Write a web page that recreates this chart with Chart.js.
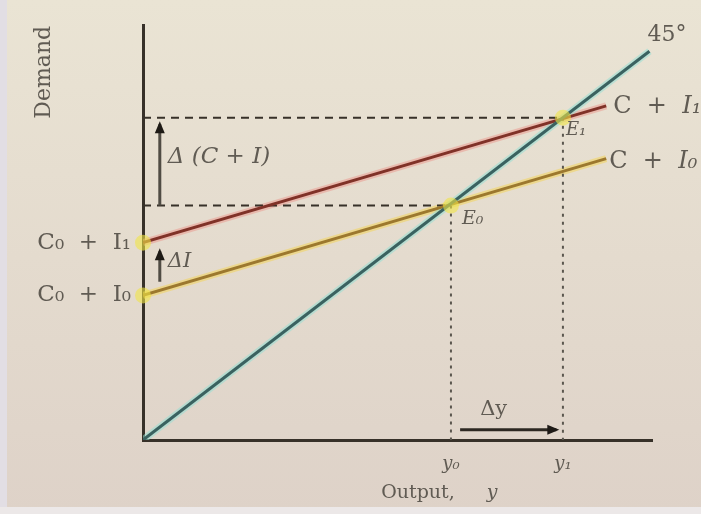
<!DOCTYPE html>
<html>
<head>
<meta charset="utf-8">
<script src="https://cdn.jsdelivr.net/npm/chart.js@4.4.1/dist/chart.umd.min.js"></script>
<style>
  html, body { margin: 0; padding: 0; background: #e4dacd; }
  #wrap { width: 701px; height: 514px; }
</style>
</head>
<body>
<div id="wrap"><canvas id="myChart" width="701" height="514"></canvas></div>
<script>
// Keynesian cross: planned demand against output, investment rising from I0 to I1

const lineX = [0, 91];              // reach of the two C + I lines
const demandI0 = [37, 72];          // C0 + I0 line, at x = 0 and x = 91
const demandI1 = [50.5, 85.5];      // C0 + I1 line
const diagonalX = [0, 99.5];        // 45 degree line, demand = output
const diagonalY = [0, 99.5];

const eqOutput = [60.5, 82.5];      // y0, y1
const eqDemand = [60, 82.5];        // heights of E0, E1

const outputTicks = ['y₀', 'y₁'];
const demandTicks = ['C₀  +  I₀', 'C₀  +  I₁'];

// arrows, tail -> head
const arrowDeltaCI = [[3.3, 60], [3.3, 80.8]];
const arrowDeltaI = [[3.3, 40.5], [3.3, 48.3]];
const arrowDeltaY = [[62.3, 2.6], [81.2, 2.6]];

const ink = 'rgb(55, 49, 41)';
const textGray = 'rgb(96, 91, 83)';

const pts = (xs, ys) => xs.map((x, i) => ({ x: x, y: ys[i] }));
const pairs = (arr) => arr.map(p => ({ x: p[0], y: p[1] }));

function line(data, color, width, order, extra) {
    return Object.assign({
        data: data,
        showLine: true,
        borderColor: color,
        borderWidth: width,
        pointRadius: 0,
        order: order
    }, extra || {});
}

const datasets = [
    // soft colour fringes under the main lines
    line(pts(diagonalX, diagonalY), 'rgba(150, 222, 212, 0.55)', 7, 20),
    line(pts(lineX, demandI1), 'rgba(236, 150, 140, 0.5)', 7, 20),
    line(pts(lineX, demandI0), 'rgba(242, 212, 90, 0.55)', 7, 20),

    line(pts(diagonalX, diagonalY), 'rgb(58, 98, 96)', 3, 10),
    line(pts(lineX, demandI1), 'rgb(128, 50, 40)', 3, 10),
    line(pts(lineX, demandI0), 'rgb(156, 120, 46)', 3, 10),

    // guides from the equilibria to the axes
    line(pts([0, eqOutput[1]], [eqDemand[1], eqDemand[1]]), ink, 2, 15, { borderDash: [8, 6] }),
    line(pts([0, eqOutput[0]], [eqDemand[0], eqDemand[0]]), ink, 2, 15, { borderDash: [8, 6] }),
    line(pts([eqOutput[0], eqOutput[0]], [eqDemand[0], 0]), 'rgb(90, 86, 78)', 2, 15, { borderDash: [3, 5] }),
    line(pts([eqOutput[1], eqOutput[1]], [eqDemand[1], 0]), 'rgb(90, 86, 78)', 2, 15, { borderDash: [3, 5] }),

    // change arrows
    line(pairs(arrowDeltaCI), 'rgb(80, 76, 68)', 3, 5, { arrowHead: true }),
    line(pairs(arrowDeltaI), 'rgb(80, 76, 68)', 3, 5, { arrowHead: true }),
    line(pairs(arrowDeltaY), 'rgb(45, 40, 34)', 3, 5, { arrowHead: true }),

    // yellow highlights on intercepts and equilibria
    {
        data: pts([0, 0, eqOutput[0], eqOutput[1]], [demandI0[0], demandI1[0], eqDemand[0], eqDemand[1]]),
        showLine: false,
        pointRadius: 8,
        pointBorderWidth: 0,
        pointBackgroundColor: 'rgba(240, 228, 70, 0.6)',
        clip: false,
        order: 1
    }
];

// text placed next to marks: anchor in data units, offset in pixels
const notes = [
    { runs: [['C  +  ', ''], ['I₁', 'italic ']], x: lineX[1], y: demandI1[1], dx: 7, dy: 1, size: 24 },
    { runs: [['C  +  ', ''], ['I₀', 'italic ']], x: lineX[1], y: demandI0[1], dx: 3, dy: 3, size: 24 },
    { runs: [['45°', '']], x: diagonalX[1], y: diagonalY[1], dx: -2, dy: -16, size: 22 },
    { runs: [['E₁', 'italic ']], x: eqOutput[1], y: eqDemand[1], dx: 3, dy: 13, size: 18 },
    { runs: [['E₀', 'italic ']], x: eqOutput[0], y: eqDemand[0], dx: 11, dy: 14, size: 19 },
    { runs: [['Δ (C + I)', 'italic ']], x: arrowDeltaCI[0][0], y: (arrowDeltaCI[0][1] + arrowDeltaCI[1][1]) / 2, dx: 8, dy: -8, size: 23 },
    { runs: [['ΔI', 'italic ']], x: arrowDeltaI[0][0], y: (arrowDeltaI[0][1] + arrowDeltaI[1][1]) / 2, dx: 8, dy: -5, size: 21 },
    { runs: [['Δy', '']], x: (arrowDeltaY[0][0] + arrowDeltaY[1][0]) / 2, y: arrowDeltaY[0][1], dx: -28, dy: -20, size: 21 }
];

const paperPlugin = {
    id: 'paper',
    beforeDraw(chart) {
        const ctx = chart.ctx;
        const w = chart.width, h = chart.height;
        ctx.save();
        const g = ctx.createLinearGradient(0, 0, 0, h);
        g.addColorStop(0, 'rgb(234, 228, 212)');
        g.addColorStop(0.5, 'rgb(228, 219, 206)');
        g.addColorStop(1, 'rgb(222, 210, 200)');
        ctx.fillStyle = g;
        ctx.fillRect(0, 0, w, h);
        ctx.fillStyle = 'rgb(226, 222, 228)';
        ctx.fillRect(0, 0, 7, h);
        ctx.fillStyle = 'rgb(236, 232, 232)';
        ctx.fillRect(0, h - 7, w, 7);
        ctx.restore();
    }
};

const arrowPlugin = {
    id: 'arrows',
    afterDatasetsDraw(chart) {
        const ctx = chart.ctx;
        chart.data.datasets.forEach((ds, i) => {
            if (!ds.arrowHead) return;
            const pts = chart.getDatasetMeta(i).data;
            const a = pts[pts.length - 2], b = pts[pts.length - 1];
            const ang = Math.atan2(b.y - a.y, b.x - a.x);
            ctx.save();
            ctx.translate(b.x, b.y);
            ctx.rotate(ang);
            ctx.fillStyle = 'rgb(30, 26, 22)';
            ctx.beginPath();
            ctx.moveTo(3, 0);
            ctx.lineTo(-9, -5);
            ctx.lineTo(-9, 5);
            ctx.closePath();
            ctx.fill();
            ctx.restore();
        });
    }
};

const notesPlugin = {
    id: 'notes',
    afterDraw(chart) {
        const ctx = chart.ctx;
        const sx = chart.scales.x, sy = chart.scales.y;
        ctx.save();
        ctx.fillStyle = textGray;
        ctx.textBaseline = 'middle';
        ctx.textAlign = 'left';
        notes.forEach(n => {
            let x = sx.getPixelForValue(n.x) + n.dx;
            const y = sy.getPixelForValue(n.y) + n.dy;
            n.runs.forEach(r => {
                ctx.font = r[1] + n.size + 'px "DejaVu Serif"';
                ctx.fillText(r[0], x, y);
                x += ctx.measureText(r[0]).width;
            });
        });
        // axis caption under the output ticks
        ctx.font = '19px "DejaVu Serif"';
        ctx.textAlign = 'center';
        ctx.fillText('Output,', 418, 493);
        ctx.font = 'italic 19px "DejaVu Serif"';
        ctx.fillText('y', 492, 493);
        ctx.restore();
    }
};

new Chart(document.getElementById('myChart'), {
    type: 'scatter',
    data: { datasets: datasets },
    options: {
        responsive: false,
        animation: false,
        events: [],
        layout: { padding: { left: 0, top: 17, right: 49, bottom: 0 } },
        plugins: {
            legend: { display: false },
            tooltip: { enabled: false }
        },
        scales: {
            x: {
                type: 'linear',
                min: 0,
                max: 100,
                grid: { display: false, drawTicks: false },
                border: { display: true, color: ink, width: 3 },
                afterFit: (scale) => { scale.height = 74; },
                afterBuildTicks: (scale) => { scale.ticks = eqOutput.map(v => ({ value: v })); },
                ticks: {
                    padding: 14,
                    color: textGray,
                    font: { family: 'DejaVu Serif', size: 18, style: 'italic' },
                    callback: (v, i) => outputTicks[i]
                }
            },
            y: {
                type: 'linear',
                min: 0,
                max: 106,
                grid: { display: false, drawTicks: false },
                border: { display: true, color: ink, width: 3 },
                afterFit: (scale) => { scale.width = 143; },
                afterBuildTicks: (scale) => {
                    scale.ticks = [demandI0[0], demandI1[0]].map(v => ({ value: v }));
                },
                ticks: {
                    padding: 12,
                    color: textGray,
                    font: { family: 'DejaVu Serif', size: 23 },
                    callback: (v, i) => demandTicks[i]
                },
                title: {
                    display: true,
                    text: 'Demand',
                    align: 'end',
                    color: textGray,
                    font: { family: 'DejaVu Serif', size: 22 },
                    padding: { top: 31, bottom: 0 }
                }
            }
        }
    },
    plugins: [paperPlugin, arrowPlugin, notesPlugin]
});
</script>
</body>
</html>
